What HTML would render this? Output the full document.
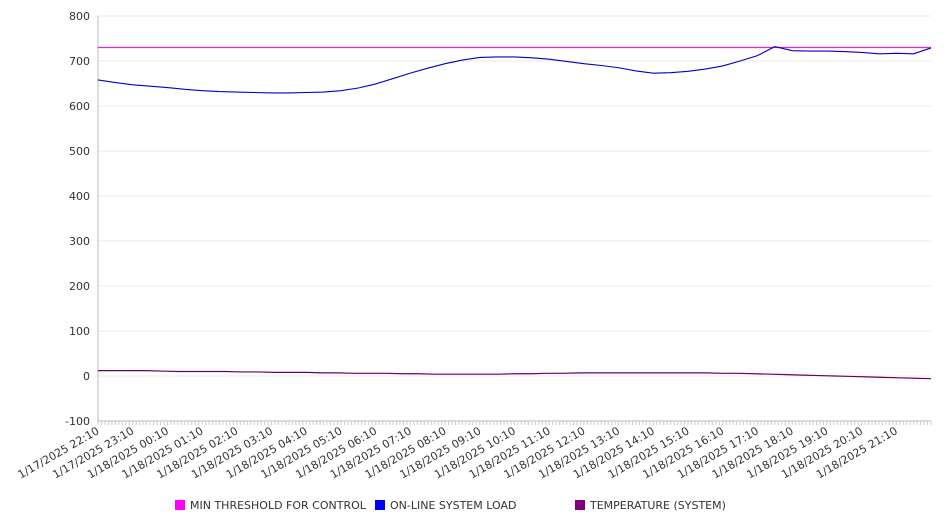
<!DOCTYPE html>
<html><head><meta charset="utf-8">
<style>
body{margin:0;background:#fff;}
svg text{font-family:"DejaVu Sans","Liberation Sans",sans-serif;font-size:11px;fill:#333;}
</style></head>
<body>
<svg id="chart" width="946" height="526" xmlns="http://www.w3.org/2000/svg">
<g id="grid"></g><g id="axes"></g><g id="series"></g><g id="legend"></g>
</svg>
<script>
const yTicks=[800,700,600,500,400,300,200,100,0,-100];
const xLabels=["1/17/2025 22:10","1/17/2025 23:10","1/18/2025 00:10","1/18/2025 01:10","1/18/2025 02:10","1/18/2025 03:10","1/18/2025 04:10","1/18/2025 05:10","1/18/2025 06:10","1/18/2025 07:10","1/18/2025 08:10","1/18/2025 09:10","1/18/2025 10:10","1/18/2025 11:10","1/18/2025 12:10","1/18/2025 13:10","1/18/2025 14:10","1/18/2025 15:10","1/18/2025 16:10","1/18/2025 17:10","1/18/2025 18:10","1/18/2025 19:10","1/18/2025 20:10","1/18/2025 21:10"];
// half-hour samples, 49 points (22:10 .. 22:10)
const loadValues=[658,652,647,644,641,637,634,632,631,630,629,629,630,631,634,640,649,661,673,684,694,702,708,709,709,707,704,699,694,690,685,678,673,674,677,682,689,700,712,732,723,722,722,721,719,716,717,716,729];
const thresholdValue=730;
const tempValues=[12,12,12,12,11,10,10,10,10,9,9,8,8,8,7,7,6,6,6,5,5,4,4,4,4,4,5,5,6,6,7,7,7,7,7,7,7,7,7,6,6,5,4,3,2,1,0,-1,-2,-3,-4,-5,-6];
const x0=98,x1=931,yTop=16,yBot=421;
const yScale=v=>yTop+(800-v)/900*(yBot-yTop);
const xIdx=(i,n)=>x0+i/(n-1)*(x1-x0);
const NS="http://www.w3.org/2000/svg";
function mk(tag,attrs,parent){const e=document.createElementNS(NS,tag);for(const k in attrs)e.setAttribute(k,attrs[k]);parent.appendChild(e);return e;}
const grid=document.getElementById('grid'),axes=document.getElementById('axes'),series=document.getElementById('series'),legend=document.getElementById('legend');
yTicks.forEach(v=>{
  const y=yScale(v);
  const l=mk('line',{x1:x0,x2:x1,y1:y,y2:y,stroke:'#ebebeb'},grid);
  
  
  const t=mk('text',{x:x0-8,y:y+4,'text-anchor':'end'},axes);
  t.textContent=v;
  
  
});
const ya=mk('line',{x1:x0,x2:x0,y1:yTop,y2:yBot,stroke:'#bbb'},axes);


const xa=mk('line',{x1:x0,x2:x1,y1:yBot,y2:yBot,stroke:'#bbb'},axes);


const hourW=(x1-x0)/24;
for(let i=0;i<=240;i++){
  const x=x0+i*hourW/10;
  const tk=mk('line',{x1:x,x2:x,y1:yBot,y2:yBot+4,stroke:'#ccc'},axes);
  
  
}
xLabels.forEach((s,i)=>{
  const x=x0+i*hourW;
  const t=mk('text',{x:x+2,y:yBot+12,'text-anchor':'end',transform:`rotate(-30 ${x+2} ${yBot+12})`},axes);
  t.textContent=s;
  
  
});
const th=mk('line',{x1:x0,x2:x1,y1:yScale(thresholdValue),y2:yScale(thresholdValue),stroke:'#dd22dd','stroke-width':1.2},series);


const lp=mk('polyline',{points:loadValues.map((v,i)=>xIdx(i,loadValues.length)+','+yScale(v)).join(' '),fill:'none',stroke:'#0000cc','stroke-width':1.1},series);


const tp=mk('polyline',{points:tempValues.map((v,i)=>xIdx(i,tempValues.length)+','+yScale(v)).join(' '),fill:'none',stroke:'#660066','stroke-width':1.2},series);


const leg=[["MIN THRESHOLD FOR CONTROL","#ff00ff",175],["ON-LINE SYSTEM LOAD","#0000ff",375],["TEMPERATURE (SYSTEM)","#800080",575]];
leg.forEach(([n,c,x])=>{
  const r=mk('rect',{x:x,y:500,width:10,height:10,fill:c},legend);
  
  
  const t=mk('text',{x:x+15,y:509},legend);
  t.textContent=n;
  
  
});
</script>
</body></html>
